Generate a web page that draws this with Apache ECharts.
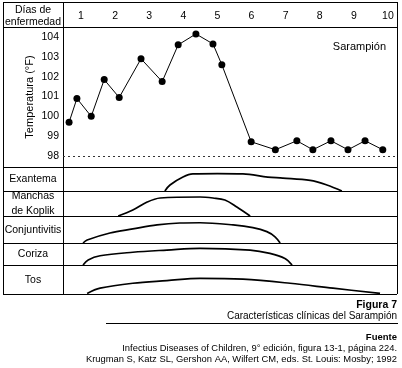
<!DOCTYPE html>
<html><head><meta charset="utf-8">
<script src="https://cdn.jsdelivr.net/npm/echarts@6/dist/echarts.min.js"></script>
<style>html,body{margin:0;padding:0;background:#fff}#c{width:402px;height:368px}</style>
</head><body><div id="c"></div>
<script>
// ---- data ----
const dayTicks = [1,2,3,4,5,6,7,8,9,10];
const tempTicks = [98,99,100,101,102,103,104];
const tempDays  = [0.65,0.88,1.3,1.68,2.12,2.76,3.38,3.85,4.37,4.87,5.13,5.99,6.7,7.33,7.8,8.33,8.83,9.33,9.85];
const tempVals  = [99.7,100.9,100.0,101.85,100.95,102.9,101.75,103.6,104.15,103.65,102.6,98.72,98.32,98.77,98.32,98.77,98.32,98.77,98.32];
const symptomNames = ['Exantema','Manchas\nde Koplik','Conjuntivitis','Coriza','Tos'];
const exantemaDays = [3.46,3.61,3.99,4.28,5.0,5.75,6.48,6.92,7.72,8.21,8.65];
const exantemaVals = [0,0.25,0.58,0.71,0.72,0.71,0.58,0.54,0.44,0.25,0];
const koplikDays = [2.09,2.52,2.94,3.32,4.49,4.87,5.22,5.57,5.96];
const koplikVals = [0,0.24,0.56,0.72,0.76,0.72,0.64,0.36,0];
const conjDays = [1.06,1.18,1.85,2.52,3.23,3.9,4.49,5.46,6.04,6.45,6.69,6.84];
const conjVals = [0,0.11,0.37,0.52,0.67,0.74,0.75,0.67,0.57,0.42,0.23,0];
const corizaDays = [1.06,1.21,1.56,2.52,3.52,4.49,5.96,6.54,6.98,7.19];
const corizaVals = [0,0.23,0.42,0.58,0.68,0.76,0.68,0.53,0.30,0];
const tosDays = [1.18,1.56,2.52,3.52,4.49,5.75,7.13,8.39,9.77];
const tosVals = [0.02,0.2,0.37,0.46,0.54,0.51,0.37,0.2,0.02];

// ---- layout ----
const L = 3, R = 397, T = 2, B = 294, COL = 63;
const rowTops = [167,191,216,243,265];
const rowBots = [191,216,243,265,294];
const XMIN = 0.472, XMAX = 10.267;
const font = 'Liberation Sans, Arial, sans-serif';

const chart = echarts.init(document.getElementById('c'), null, {renderer:'canvas'});
const grids = [{left:COL, top:27, width:R-COL, height:140}];
const xAxes = [{gridIndex:0, type:'value', min:XMIN, max:XMAX, position:'top',
  axisLine:{show:false}, axisTick:{show:false}, splitLine:{show:false},
  axisLabel:{customValues:dayTicks, margin:5, fontSize:10.5, color:'#000', fontFamily:font}}];
const yAxes = [{gridIndex:0, type:'value', min:97.45, max:104.5,
  axisLine:{show:false}, axisTick:{show:false}, splitLine:{show:false},
  axisLabel:{customValues:tempTicks, margin:4, fontSize:10.5, color:'#000', fontFamily:font}}];
const series = [{type:'line', xAxisIndex:0, yAxisIndex:0,
  data: tempDays.map((d,i)=>[d,tempVals[i]]),
  symbol:'circle', symbolSize:7, itemStyle:{color:'#000'},
  lineStyle:{color:'#000', width:1}, silent:true, animation:false,
  markLine:{silent:true, symbol:'none', label:{show:false},
    lineStyle:{color:'#333', type:[2,3], width:1}, data:[{yAxis:98}]}}];
const sym = [[exantemaDays,exantemaVals],[koplikDays,koplikVals],[conjDays,conjVals],[corizaDays,corizaVals],[tosDays,tosVals]];
sym.forEach((s,i)=>{
  const gi = i+1;
  grids.push({left:COL, top:rowTops[i], width:R-COL, height:rowBots[i]-rowTops[i]});
  xAxes.push({gridIndex:gi, type:'value', min:XMIN, max:XMAX, show:false});
  yAxes.push({gridIndex:gi, type:'value', min:0, max:1, show:false});
  series.push({type:'line', xAxisIndex:gi, yAxisIndex:gi, data:s[0].map((d,k)=>[d,s[1][k]]),
    symbol:'none', smooth:0.35, lineStyle:{color:'#000', width:1.7}, silent:true, animation:false});
});

const graphic = [];
const line = (x1,y1,x2,y2)=>graphic.push({type:'line', shape:{x1,y1,x2,y2}, style:{stroke:'#000', lineWidth:1}, silent:true});
line(L+0.5,T,L+0.5,B); line(R+0.5,T,R+0.5,B); line(L,T+0.5,R,T+0.5); line(L,B+0.5,R,B+0.5);
line(COL+0.5,T,COL+0.5,B); line(L,27.5,R,27.5);
rowTops.forEach(y=>line(L,y+0.5,R,y+0.5));
line(106,323.5,R+1,323.5);
const txt = (x,y,text,opt={})=>graphic.push({type:'text', x, y, rotation:opt.rot||0, silent:true,
  style:{text, fill:'#000', fontSize:opt.size||10.5, fontFamily:font, fontWeight:opt.bold?'bold':'normal',
    align:opt.align||'center', verticalAlign:'middle', lineHeight:opt.lh||13}});
txt(33,10,'Días de'); txt(33,22,'enfermedad');
txt(30,97,'Temperatura (°F)',{rot:Math.PI/2, size:11});
txt(386,47,'Sarampión',{align:'right', size:11});
symptomNames.forEach((n,i)=>txt(33,(rowTops[i]+rowBots[i])/2+0.5,n,{lh:15}));
txt(397,305,'Figura 7',{align:'right', bold:true, size:10.5});
txt(397,316,'Características clínicas del Sarampión',{align:'right', size:10});
txt(397,337,'Fuente',{align:'right', bold:true, size:9.5});
txt(397,348,'Infectius Diseases of Children, 9° edición, figura 13-1, página 224.',{align:'right', size:9.4});
txt(397,359,'Krugman S, Katz SL, Gershon AA, Wilfert CM, eds. St. Louis: Mosby; 1992',{align:'right', size:9.4});

chart.setOption({animation:false, grid:grids, xAxis:xAxes, yAxis:yAxes, series, graphic});
</script></body></html>
